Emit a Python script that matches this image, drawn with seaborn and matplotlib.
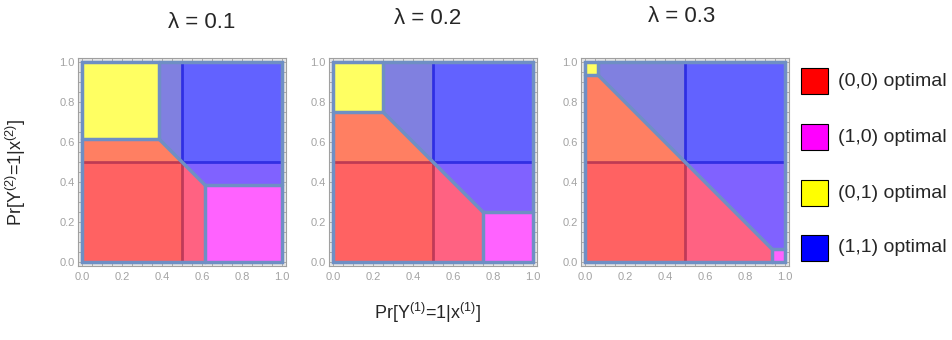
import matplotlib.pyplot as plt
import seaborn as sns
from matplotlib.patches import Polygon, Rectangle
from matplotlib.ticker import MultipleLocator

# one panel per lambda; corner = side of the (0,1)/(1,0) optimal squares
lambdas = [0.1, 0.2, 0.3]
corner_sizes = [0.385, 0.25, 0.065]
split = 0.5

legend_labels = ["(0,0) optimal", "(1,0) optimal", "(0,1) optimal", "(1,1) optimal"]
legend_colors = ["#ff0000", "#ff00ff", "#ffff00", "#0000ff"]

region_colors = {
    "red": "#ff6262",
    "orange": "#ff7f62",
    "pink": "#ff6282",
    "yellow": "#ffff62",
    "magenta": "#ff62ff",
    "blue": "#6262ff",
    "lavender": "#8080e0",
    "purple": "#8062ff",
}
edge_color = "#6f8fc4"

sns.set_theme(style="white")
plt.rcParams["font.family"] = ["Liberation Sans", "DejaVu Sans"]
plt.rcParams["mathtext.default"] = "regular"


def draw_panel(ax, t):
    s = split
    polys = [
        ("red", [(0, 0), (s, 0), (s, s), (0, s)]),
        ("orange", [(0, s), (s, s), (t, 1 - t), (0, 1 - t)]),
        ("yellow", [(0, 1 - t), (t, 1 - t), (t, 1), (0, 1)]),
        ("lavender", [(t, 1 - t), (s, s), (s, 1), (t, 1)]),
        ("blue", [(s, s), (1, s), (1, 1), (s, 1)]),
        ("purple", [(s, s), (1, s), (1, t), (1 - t, t)]),
        ("pink", [(s, 0), (1 - t, 0), (1 - t, t), (s, s)]),
        ("magenta", [(1 - t, 0), (1, 0), (1, t), (1 - t, t)]),
    ]
    for name, pts in polys:
        ax.add_patch(Polygon(pts, closed=True, facecolor=region_colors[name],
                             edgecolor="none", zorder=1))

    # quadrant split lines
    ax.plot([s, s], [0, s], color="#b03050", lw=2, alpha=0.8, zorder=2)
    ax.plot([0, s], [s, s], color="#b03050", lw=2, alpha=0.8, zorder=2)
    ax.plot([s, s], [s, 1], color="#2a2ae0", lw=2, alpha=0.9, zorder=2)
    ax.plot([s, 1], [s, s], color="#2a2ae0", lw=2, alpha=0.9, zorder=2)

    # region boundaries
    ax.plot([t, t, 0], [1, 1 - t, 1 - t], color=edge_color, lw=2.5, zorder=3)
    ax.plot([1 - t, 1 - t, 1], [0, t, t], color=edge_color, lw=2.5, zorder=3)
    ax.plot([t, 1 - t], [1 - t, t], color=edge_color, lw=2.5, zorder=3)
    ax.add_patch(Rectangle((0, 0), 1, 1, fill=False, edgecolor=edge_color,
                           lw=2.5, zorder=3))

    # mathematica-style frame
    pad = 0.02
    ax.set_xlim(-pad, 1 + pad)
    ax.set_ylim(-pad, 1 + pad)
    ax.set_facecolor("#e8e8e8")
    ax.add_patch(Rectangle((-0.006, -0.006), 1.012, 1.012, fill=False,
                           edgecolor="#a8a8a8", lw=0.8, zorder=0.5))
    for sp in ax.spines.values():
        sp.set_visible(True)
        sp.set_color("#a0a0a0")
        sp.set_linewidth(0.8)
    ax.xaxis.set_major_locator(MultipleLocator(0.2))
    ax.yaxis.set_major_locator(MultipleLocator(0.2))
    ax.xaxis.set_minor_locator(MultipleLocator(0.05))
    ax.yaxis.set_minor_locator(MultipleLocator(0.05))
    ax.tick_params(which="both", direction="in", top=True, right=True,
                   bottom=True, left=True, color="#a0a0a0", width=0.6)
    ax.tick_params(which="major", length=3.5, labelsize=8,
                   labelcolor="#a3a3a3", pad=2.5)
    ax.tick_params(axis="x", which="major", pad=4)
    ax.tick_params(which="minor", length=2)
    ax.xaxis.set_major_formatter(lambda v, p: f"{v:.1f}")
    ax.yaxis.set_major_formatter(lambda v, p: f"{v:.1f}")


fig = plt.figure(figsize=(9.53, 3.4), dpi=100)
lefts = [78, 329, 581]
title_x = [202, 428, 682]
title_y = [23, 18, 17]
for lam, t, left, tx, ty in zip(lambdas, corner_sizes, lefts, title_x, title_y):
    ax = fig.add_axes([left / 953, 74 / 340, 208 / 953, 208 / 340])
    draw_panel(ax, t)
    fig.text(tx / 953, 1 - ty / 340, f"λ = {lam}", ha="center",
             va="center", fontsize=16)

fig.text(428 / 953, 1 - 313 / 340, r"Pr[Y$^{(1)}$=1|x$^{(1)}$]", ha="center",
         va="center", fontsize=13)
fig.text(16 / 953, 1 - 172 / 340, r"Pr[Y$^{(2)}$=1|x$^{(2)}$]", ha="center",
         va="center", fontsize=13, rotation=90)

row_y = [81, 137, 193, 248]
for lab, col, ry in zip(legend_labels, legend_colors, row_y):
    fig.patches.append(Rectangle((801 / 953, 1 - (ry + 13) / 340), 27 / 953,
                                 26 / 340, transform=fig.transFigure,
                                 facecolor=col, edgecolor="black", lw=0.8))
    fig.text(838 / 953, 1 - ry / 340, lab, ha="left", va="center", fontsize=14)

fig.savefig("out.png", dpi=100)
